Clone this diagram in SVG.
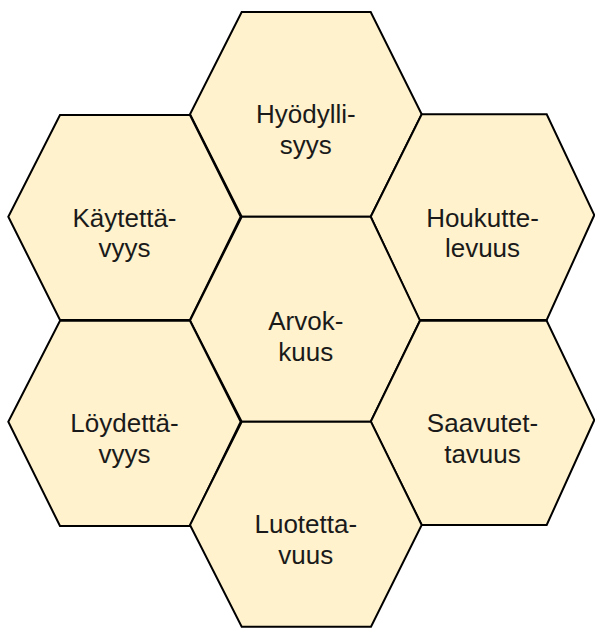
<svg xmlns="http://www.w3.org/2000/svg" width="595" height="628" viewBox="0 0 595 628">
<style>
.hex{fill:#fff2cc;stroke:#000;stroke-width:2;stroke-linejoin:miter}
.lbl{font-family:"Liberation Sans",Arial,sans-serif;font-size:26px;fill:#1a1a1a;text-anchor:middle}
</style>
<rect width="595" height="628" fill="#fff"/>
<g id="hyodyllisyys">
<polygon class="hex" points="241.7,12 370.7,12 421.7,114.3 370.7,216.7 241.7,216.7 190,114.3"/>
<text class="lbl" x="305.8" y="123">Hyödylli-</text>
<text class="lbl" x="305.8" y="153.5">syys</text>
</g>
<g id="kaytettavyys">
<polygon class="hex" points="60,115 190,115 240.7,216.7 190,320 60,320 8.3,216.7"/>
<text class="lbl" x="124.5" y="226.7">Käytettä-</text>
<text class="lbl" x="124.5" y="257">vyys</text>
</g>
<g id="houkuttelevuus">
<polygon class="hex" points="421.7,114.3 546.7,114.3 594.3,215 546.7,320 419.3,320 370.7,216.7"/>
<text class="lbl" x="482.5" y="226.7">Houkutte-</text>
<text class="lbl" x="482.5" y="257">levuus</text>
</g>
<g id="arvokkuus">
<polygon class="hex" points="241.7,216.7 370.7,216.7 420,320.5 370.7,421.7 241.7,421.7 190,320.5"/>
<text class="lbl" x="305.8" y="330">Arvok-</text>
<text class="lbl" x="305.8" y="360.5">kuus</text>
</g>
<g id="loydettavyys">
<polygon class="hex" points="60,320.7 190,320.7 240.7,421.7 190,526 60,526 8.3,421.7"/>
<text class="lbl" x="124.5" y="431.7">Löydettä-</text>
<text class="lbl" x="124.5" y="462.5">vyys</text>
</g>
<g id="saavutettavuus">
<polygon class="hex" points="420,320.7 546.7,320.7 594.3,420 546.7,525 421.7,525 370.7,421.7"/>
<text class="lbl" x="482.5" y="431.5">Saavutet-</text>
<text class="lbl" x="482.5" y="462.5">tavuus</text>
</g>
<g id="luotettavuus">
<polygon class="hex" points="241.7,421.7 371,421.7 421.7,525 371,626.7 241.7,626.7 190,525"/>
<text class="lbl" x="305.8" y="533.3">Luotetta-</text>
<text class="lbl" x="305.8" y="563.5">vuus</text>
</g>
<g id="connectors"></g>
</svg>
